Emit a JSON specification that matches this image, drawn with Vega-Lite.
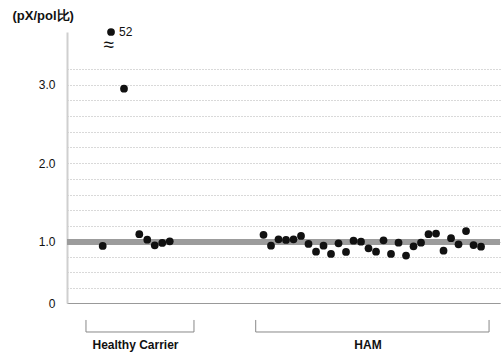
{
  "$schema": "https://vega.github.io/schema/vega-lite/v6.json",
  "autosize": "none",
  "width": 433,
  "height": 276,
  "padding": {"left": 67, "top": 27, "right": 3, "bottom": 54},
  "background": "white",
  "config": {
    "view": {"stroke": null},
    "font": "Liberation Sans",
    "text": {"font": "Liberation Sans"}
  },
  "datasets": {
    "subjects": [
      {"group": "Healthy Carrier", "x": 4.76, "v": 0.93},
      {"group": "Healthy Carrier", "x": 5.87, "v": 52},
      {"group": "Healthy Carrier", "x": 7.6, "v": 2.95},
      {"group": "Healthy Carrier", "x": 9.64, "v": 1.096},
      {"group": "Healthy Carrier", "x": 10.7, "v": 1.026},
      {"group": "Healthy Carrier", "x": 11.7, "v": 0.942},
      {"group": "Healthy Carrier", "x": 12.7, "v": 0.979},
      {"group": "Healthy Carrier", "x": 13.7, "v": 1.005},
      {"group": "HAM", "x": 26.2, "v": 1.087},
      {"group": "HAM", "x": 27.2, "v": 0.935},
      {"group": "HAM", "x": 28.2, "v": 1.031},
      {"group": "HAM", "x": 29.2, "v": 1.022},
      {"group": "HAM", "x": 30.2, "v": 1.031},
      {"group": "HAM", "x": 31.2, "v": 1.074},
      {"group": "HAM", "x": 32.2, "v": 0.963},
      {"group": "HAM", "x": 33.2, "v": 0.838},
      {"group": "HAM", "x": 34.2, "v": 0.935},
      {"group": "HAM", "x": 35.2, "v": 0.8},
      {"group": "HAM", "x": 36.2, "v": 0.974},
      {"group": "HAM", "x": 37.2, "v": 0.833},
      {"group": "HAM", "x": 38.2, "v": 1.013},
      {"group": "HAM", "x": 39.2, "v": 1.0},
      {"group": "HAM", "x": 40.2, "v": 0.893},
      {"group": "HAM", "x": 41.2, "v": 0.838},
      {"group": "HAM", "x": 42.2, "v": 1.018},
      {"group": "HAM", "x": 43.2, "v": 0.8},
      {"group": "HAM", "x": 44.2, "v": 0.984},
      {"group": "HAM", "x": 45.2, "v": 0.773},
      {"group": "HAM", "x": 46.2, "v": 0.925},
      {"group": "HAM", "x": 47.2, "v": 0.984},
      {"group": "HAM", "x": 48.2, "v": 1.096},
      {"group": "HAM", "x": 49.2, "v": 1.104},
      {"group": "HAM", "x": 50.2, "v": 0.854},
      {"group": "HAM", "x": 51.2, "v": 1.044},
      {"group": "HAM", "x": 52.2, "v": 0.958},
      {"group": "HAM", "x": 53.2, "v": 1.135},
      {"group": "HAM", "x": 54.2, "v": 0.946},
      {"group": "HAM", "x": 55.2, "v": 0.919}
    ],
    "groups": [
      {"group": "Healthy Carrier", "start": 2.53, "end": 16.93, "mid": 9.13},
      {"group": "HAM", "start": 25.16, "end": 56.27, "mid": 40.13}
    ],
    "breakMark": [
      {"symbol": "≈", "x": 5.55, "v": 35}
    ]
  },
  "layer": [
    {
      "data": {"name": "subjects"},
      "mark": {"type": "rule", "color": "#9c9c9c", "strokeWidth": 5},
      "encoding": {
        "y": {
          "datum": 1,
          "type": "quantitative",
          "scale": {"type": "linear", "domain": [0, 1, 3.2, 52], "range": [276, 214.7, 42, 5], "zero": false, "nice": false},
          "axis": {
            "title": "(pX/pol比)",
            "titleAngle": 0,
            "titleX": -55,
            "titleY": -12,
            "titleAlign": "left",
            "titleBaseline": "middle",
            "titleFontSize": 13,
            "titleFontWeight": "bold",
            "titleColor": "#111",
            "values": [0, 0.25, 0.5, 0.75, 1, 1.2, 1.4, 1.6, 1.8, 2, 2.2, 2.4, 2.6, 2.8, 3, 3.2],
            "tickCount": 40,
            "labelExpr": "datum.value == 0 ? '0' : (datum.value == 1 || datum.value == 2 || datum.value == 3) ? format(datum.value, '.1f') : ''",
            "labelOverlap": false,
            "labelFontSize": 12,
            "labelColor": "#111",
            "labelPadding": 12,
            "ticks": false,
            "grid": true,
            "gridDash": [1, 2],
            "gridColor": "#999",
            "gridOpacity": 0.75,
            "domainColor": "#cfcfcf",
            "domainWidth": 2
          }
        }
      }
    },
    {
      "data": {"name": "subjects"},
      "mark": {"type": "circle", "size": 60, "color": "#111", "opacity": 1},
      "encoding": {
        "x": {
          "field": "x",
          "type": "quantitative",
          "scale": {"domain": [0, 57.73], "zero": false, "nice": false},
          "axis": {"labels": false, "ticks": false, "grid": false, "title": null, "domainColor": "#999", "domainWidth": 1}
        },
        "y": {"field": "v", "type": "quantitative"}
      }
    },
    {
      "data": {"name": "subjects"},
      "transform": [{"filter": "datum.v > 50"}],
      "mark": {"type": "text", "align": "left", "baseline": "middle", "dx": 8, "fontSize": 12, "color": "#111"},
      "encoding": {
        "x": {"field": "x", "type": "quantitative"},
        "y": {"field": "v", "type": "quantitative"},
        "text": {"field": "v", "type": "quantitative"}
      }
    },
    {
      "data": {"name": "breakMark"},
      "mark": {"type": "text", "fontSize": 19, "color": "#111", "baseline": "middle"},
      "encoding": {
        "x": {"field": "x", "type": "quantitative"},
        "y": {"field": "v", "type": "quantitative"},
        "text": {"field": "symbol", "type": "nominal"}
      }
    },
    {
      "data": {"name": "groups"},
      "mark": {"type": "rule", "color": "#888", "strokeWidth": 1},
      "encoding": {
        "x": {"field": "start", "type": "quantitative"},
        "x2": {"field": "end"},
        "y": {"datum": -0.473, "type": "quantitative"}
      }
    },
    {
      "data": {"name": "groups"},
      "mark": {"type": "rule", "color": "#888", "strokeWidth": 1},
      "encoding": {
        "x": {"field": "start", "type": "quantitative"},
        "y": {"datum": -0.277, "type": "quantitative"},
        "y2": {"datum": -0.473}
      }
    },
    {
      "data": {"name": "groups"},
      "mark": {"type": "rule", "color": "#888", "strokeWidth": 1},
      "encoding": {
        "x": {"field": "end", "type": "quantitative"},
        "y": {"datum": -0.277, "type": "quantitative"},
        "y2": {"datum": -0.473}
      }
    },
    {
      "data": {"name": "groups"},
      "mark": {"type": "text", "fontSize": 12, "fontWeight": "bold", "color": "#111", "baseline": "middle", "align": "center"},
      "encoding": {
        "x": {"field": "mid", "type": "quantitative"},
        "y": {"datum": -0.685, "type": "quantitative"},
        "text": {"field": "group", "type": "nominal"}
      }
    }
  ]
}
